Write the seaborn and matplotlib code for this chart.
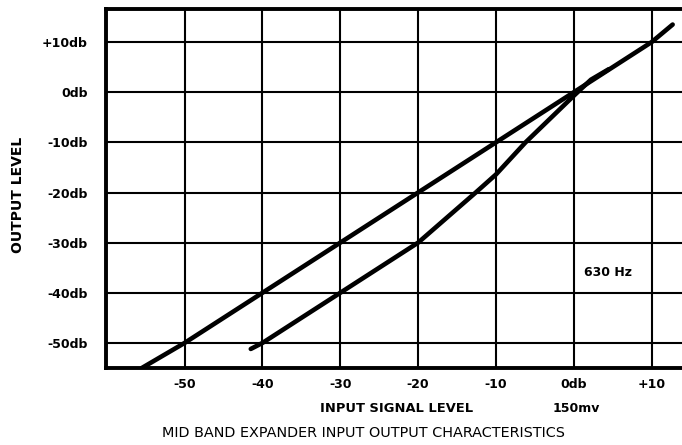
import matplotlib
matplotlib.use('Agg')
import matplotlib.pyplot as plt
import seaborn as sns
import pandas as pd

# values (input dB vs output dB)
linear_in = [-55.5, -50, -40, -30, -20, -10, 0, 10, 12.7]
linear_out = [-55.0, -50, -40, -30, -20, -10, 0, 10, 13.5]

expander_in = [-41.5, -40, -30, -20, -12.6, -10, -6.2, 0, 2.2, 4.5]
expander_out = [-51.2, -50, -40, -30, -20, -16.4, -10, -0.7, 2.5, 4.6]

x_ticks = [-50, -40, -30, -20, -10, 0, 10]
x_labels = ['-50', '-40', '-30', '-20', '-10', '0db', '+10']
y_ticks = [10, 0, -10, -20, -30, -40, -50]
y_labels = ['+10db', '0db', '-10db', '-20db', '-30db', '-40db', '-50db']

sns.set_style('white')
plt.rcParams['font.family'] = ['DejaVu Sans']
plt.rcParams['text.color'] = 'black'
plt.rcParams['xtick.color'] = 'black'
plt.rcParams['ytick.color'] = 'black'

fig = plt.figure(figsize=(6.82, 4.45), dpi=100)
ax = fig.add_axes([106 / 682, 1 - 368 / 445, 1 - 106 / 682, (368 - 9) / 445])

df1 = pd.DataFrame({'x': linear_in, 'y': linear_out})
df2 = pd.DataFrame({'x': expander_in, 'y': expander_out})
sns.lineplot(data=df1, x='x', y='y', ax=ax, color='black', lw=3.3,
             sort=False, estimator=None, solid_capstyle='round')
sns.lineplot(data=df2, x='x', y='y', ax=ax, color='black', lw=3.3,
             sort=False, estimator=None, solid_capstyle='round')

ax.set_xlim(-60.1, 13.9)
ax.set_ylim(-55.0, 16.6)
ax.set_xticks(x_ticks)
ax.set_xticklabels(x_labels, fontsize=9, fontweight='bold', color='black')
ax.set_yticks(y_ticks)
ax.set_yticklabels(y_labels, fontsize=9, fontweight='bold', color='black')
ax.tick_params(axis='both', length=0)
ax.tick_params(axis='x', pad=7)
ax.tick_params(axis='y', pad=13)
ax.grid(True, color='black', lw=1.5)
ax.set_axisbelow(True)

for side in ['left', 'top', 'bottom']:
    ax.spines[side].set_linewidth(2.8)
    ax.spines[side].set_color('black')
ax.spines['right'].set_visible(False)

ax.set_xlabel('')
ax.set_ylabel('')

ax.text(4.4, -36, '630 Hz', fontsize=9, fontweight='bold', ha='center', va='center')

fig.text(397 / 682, 1 - 408 / 445, 'INPUT SIGNAL LEVEL', fontsize=9.4,
         fontweight='bold', ha='center', va='center')
fig.text(576 / 682, 1 - 408 / 445, '150mv', fontsize=9,
         fontweight='bold', ha='center', va='center')
fig.text(363 / 682, 1 - 433 / 445, 'MID BAND EXPANDER INPUT OUTPUT CHARACTERISTICS',
         fontsize=10.4, fontweight='medium', ha='center', va='center')
fig.text(18 / 682, 1 - 195 / 445, 'OUTPUT LEVEL', fontsize=10, fontweight='bold',
         rotation=90, ha='center', va='center')

fig.savefig('out.png', dpi=100)
